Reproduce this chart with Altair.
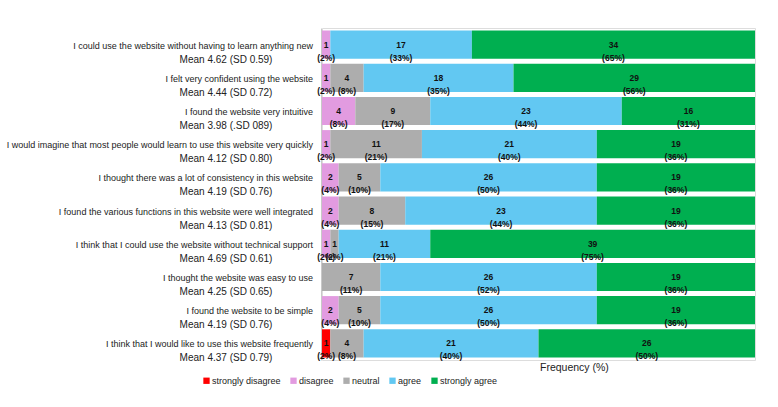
import altair as alt
import pandas as pd

questions = [
    "I could use the website without having to learn anything new",
    "I felt very confident using the website",
    "I found the website very intuitive",
    "I would imagine that most people would learn to use this website very quickly",
    "I thought there was a lot of consistency in this website",
    "I found the various functions in this website were well integrated",
    "I think that I could use the website without  technical support",
    "I thought the website was easy to use",
    "I found the website to be simple",
    "I think that I would like to use this website frequently",
]
means = [
    "Mean 4.62 (SD 0.59)",
    "Mean 4.44 (SD 0.72)",
    "Mean 3.98 (.SD 089)",
    "Mean 4.12 (SD 0.80)",
    "Mean 4.19 (SD 0.76)",
    "Mean 4.13 (SD 0.81)",
    "Mean 4.69 (SD 0.61)",
    "Mean 4.25 (SD 0.65)",
    "Mean 4.19 (SD 0.76)",
    "Mean 4.37 (SD 0.79)",
]
categories = ["strongly disagree", "disagree", "neutral", "agree", "strongly agree"]
colors = ["#FF0000", "#E29BE0", "#ADADAD", "#62C8F2", "#00AF50"]
axis_title = ["Frequency (%)"]

sd_n = [0, 0, 0, 0, 0, 0, 0, 0, 0, 1]
dis_n = [1, 1, 4, 1, 2, 2, 1, 0, 2, 0]
neu_n = [0, 4, 9, 11, 5, 8, 1, 7, 5, 4]
agr_n = [17, 18, 23, 21, 26, 23, 11, 26, 26, 21]
sag_n = [34, 29, 16, 19, 19, 19, 39, 19, 19, 26]

sd_p = [0, 0, 0, 0, 0, 0, 0, 0, 0, 2]
dis_p = [2, 2, 8, 2, 4, 4, 2, 0, 4, 0]
neu_p = [0, 8, 17, 21, 10, 15, 2, 11, 10, 8]
agr_p = [33, 35, 44, 40, 50, 44, 21, 52, 50, 40]
sag_p = [65, 56, 31, 36, 36, 36, 75, 36, 36, 50]

counts = [sd_n, dis_n, neu_n, agr_n, sag_n]
pcts = [sd_p, dis_p, neu_p, agr_p, sag_p]

rows = []
for qi, q in enumerate(questions):
    for ci, c in enumerate(categories):
        n = counts[ci][qi]
        if n > 0:
            rows.append({"question": q, "category": c, "rank": ci, "count": n,
                         "label": f"{n}\n({pcts[ci][qi]}%)"})
bars_df = pd.DataFrame(rows)
labels_df = pd.DataFrame({"question": questions, "mean": means})

FONT = "Liberation Sans, Arial, sans-serif"

yenc = alt.Y("question:N", sort=questions,
             scale=alt.Scale(paddingInner=0.15, paddingOuter=0.075),
             axis=alt.Axis(labels=False, ticks=False, domain=True, domainColor="#C8C8C8",
                           grid=False, title=None, offset=1))

bars = alt.Chart(bars_df).mark_bar().encode(
    y=yenc,
    x=alt.X("count:Q", stack="normalize",
            scale=alt.Scale(domain=[0, 1], nice=False),
            axis=None),
    color=alt.Color("category:N", scale=alt.Scale(domain=categories, range=colors),
                    legend=alt.Legend(orient="none", direction="horizontal", title=None,
                                      legendX=-120, legendY=348, symbolType="square",
                                      symbolSize=40, symbolStrokeWidth=0,
                                      labelFont=FONT, labelFontSize=9,
                                      labelColor="#222222", labelOffset=1,
                                      columnPadding=8, padding=0)),
    order=alt.Order("rank:Q"),
)

seg_text = alt.Chart(bars_df).transform_joinaggregate(
    total="sum(count)", groupby=["question"]
).transform_window(
    cum="sum(count)", groupby=["question"], sort=[alt.SortField("rank")],
    frame=[None, 0]
).transform_calculate(
    mid="(datum.cum - datum.count / 2) / datum.total"
).mark_text(lineBreak="\n", fontWeight="bold", fontSize=8.5, font=FONT,
            color="#111111", baseline="middle", lineHeight=13).encode(
    y=yenc,
    x=alt.X("mid:Q", scale=alt.Scale(domain=[0, 1], nice=False)),
    text="label:N",
)

q_text = alt.Chart(labels_df).mark_text(align="right", baseline="middle", font=FONT,
                                        fontSize=9, color="#222222", dx=-9, dy=1).encode(
    y=yenc, x=alt.value(0), text="question:N")

m_text = alt.Chart(labels_df).mark_text(align="center", baseline="middle", font=FONT,
                                        fontSize=10, color="#222222", dy=15).encode(
    y=yenc, x=alt.value(-96), text="mean:N")

title_text = alt.Chart(pd.DataFrame({"t": axis_title})).mark_text(
    align="left", baseline="middle", font=FONT, fontSize=10.5, color="#222222"
).encode(x=alt.value(218), y=alt.value(340), text="t:N")

chart = alt.layer(bars, seg_text, q_text, m_text, title_text).properties(
    width=433, height=332,
    autosize=alt.AutoSizeParams(type="none"),
    padding={"left": 322, "top": 28, "right": 23, "bottom": 47},
).configure_view(strokeWidth=0).configure(background="white")

chart.save("out.html", embed_options={"renderer": "svg", "actions": False})
